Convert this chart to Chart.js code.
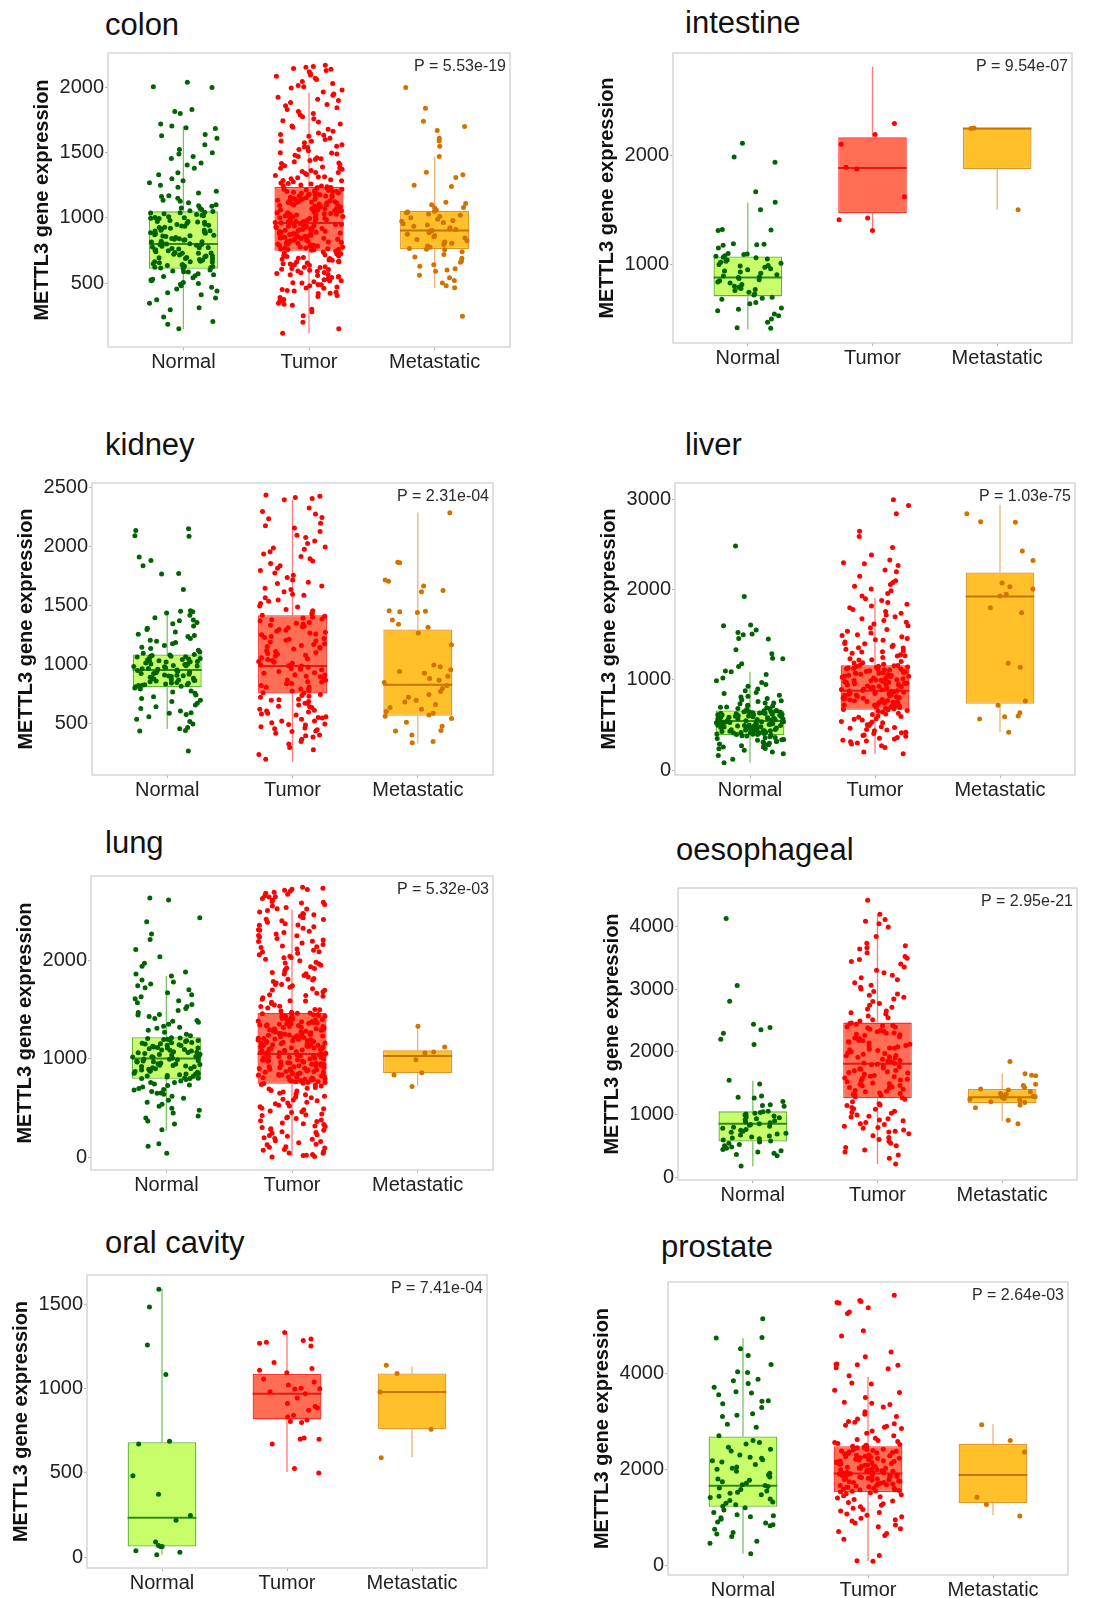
<!DOCTYPE html>
<html lang="en">
<head>
<meta charset="UTF-8">
<title>METTL3 gene expression</title>
<script src="https://cdn.jsdelivr.net/npm/chart.js@4.4.1/dist/chart.umd.min.js"></script>
<style>
  body { margin: 0; background: #fff; }
  #page { position: relative; width: 1097px; height: 1598px; font-family: "Liberation Sans", Arial, sans-serif; }
  .ttl { position: absolute; font-size: 31px; line-height: 31px; color: #111; white-space: nowrap; }
  .panel { position: absolute; }
</style>
</head>
<body>
<div id="page"></div>
<script>
// ---- data ----
const categories = ['Normal', 'Tumor', 'Metastatic'];
const tissues = ['colon', 'intestine', 'kidney', 'liver', 'lung', 'oesophageal', 'oral cavity', 'prostate'];
const pValues = ['P = 5.53e-19', 'P = 9.54e-07', 'P = 2.31e-04', 'P = 1.03e-75', 'P = 5.32e-03', 'P = 2.95e-21', 'P = 7.41e-04', 'P = 2.64e-03'];

// y axis limits and ticks
const colonRange = [10, 2264], colonTicks = [500, 1000, 1500, 2000];
const intestineRange = [280, 2937], intestineTicks = [1000, 2000];
const kidneyRange = [67, 2542], kidneyTicks = [500, 1000, 1500, 2000, 2500];
const liverRange = [-55, 3185], liverTicks = [0, 1000, 2000, 3000];
const lungRange = [-127, 2854], lungTicks = [0, 1000, 2000];
const oesoRange = [-47, 4612], oesoTicks = [0, 1000, 2000, 3000, 4000];
const oralRange = [-64, 1675], oralTicks = [0, 500, 1000, 1500];
const prostateRange = [-205, 5908], prostateTicks = [0, 2000, 4000];

// box stats per group: [lower whisker, q1, median, q3, upper whisker]
const colonBoxes = [[147, 609, 800, 1050, 1702], [115, 747, 960, 1236, 1960], [462, 760, 903, 1055, 1470]];
const intestineBoxes = [[403, 707, 881, 1072, 1567], [1310, 1472, 1884, 2164, 2812], [1501, 1875, 2245, 2245, 2245]];
const kidneyBoxes = [[458, 811, 958, 1089, 1450], [180, 758, 990, 1422, 2403], [333, 569, 833, 1300, 2292]];
const liverBoxes = [[80, 389, 545, 662, 1091], [182, 669, 880, 1164, 1910], [418, 735, 1927, 2193, 2945]];
const lungBoxes = [[272, 797, 1003, 1219, 1841], [17, 748, 1050, 1468, 2515], [728, 854, 1030, 1086, 1336]];
const oesoBoxes = [[173, 566, 849, 1048, 1536], [210, 1258, 1809, 2464, 4183], [891, 1180, 1274, 1405, 1651]];
const oralBoxes = [[14, 64, 234, 682, 1592], [506, 818, 970, 1087, 1329], [594, 760, 980, 1091, 1134]];
const prostateBoxes = [[239, 1217, 1655, 2687, 4738], [89, 1525, 1915, 2482, 3932], [1040, 1299, 1880, 2530, 2940]];

// sample values (estimated from the jittered points)
const colonNormal = [2000,2005,2040,1815,1800,1830,1720,1705,1690,1685,1640,1630,1610,1560,1525,1500,1490,1470,1455,1420,1405,1380,1345,1330,1300,1285,1270,1250,1235,1205,1190,1170,1150,1135,1115,1100,1090,1075,1065,1055,1048,1040,1032,1025,1016,1008,1001,995,988,979,972,966,958,950,944,937,929,921,915,906,899,892,886,878,870,863,857,849,842,836,829,821,815,808,802,796,790,783,776,770,762,755,748,741,735,728,722,715,708,700,694,688,681,675,668,661,655,648,641,634,628,622,615,609,600,592,585,572,563,550,541,530,518,505,492,480,468,455,440,425,410,385,372,345,310,295,240,205,185,150,
  1043,1021,997,973,951,927,905,883,861,839,817,795,773,751,729,707,685,663,641,619,1037,1003,969,935,901,867,833,799,765,731,697,663,629,1163,1127,1093,1073,587,557,523,497];
const colonTumor = [2170,2160,2155,2145,2140,2130,2120,2105,2095,2085,2070,2060,2045,2030,2015,2005,1995,1980,1965,1950,1940,1925,1910,1900,1885,1870,1860,1845,1830,1815,1800,1790,1775,1760,1745,1735,1720,1705,1695,1680,1665,1650,1640,1625,1610,1600,1590,1575,1560,1550,1540,1525,1515,1500,1490,1480,1470,1460,1450,1440,1430,1420,1410,1400,1390,1380,1372,1364,1356,1348,1340,1332,1324,1316,1308,1300,1292,1284,1276,1268,1260,1252,1244,1238,1232,1226,1220,1214,1208,1202,1196,1190,1184,1178,1172,1166,1160,1154,1148,1142,1136,1130,1124,1118,1112,1106,1100,1094,1088,1082,1076,1070,1064,1058,1052,1046,1040,1034,1028,1022,1016,1010,1004,998,992,986,980,974,968,962,956,950,944,938,932,926,920,914,908,902,896,890,884,878,872,866,860,854,848,842,836,830,824,818,812,806,800,794,788,782,776,770,764,758,752,745,738,731,724,717,710,703,696,689,682,675,668,661,654,647,640,633,626,619,612,605,598,590,582,574,566,558,550,542,534,526,518,510,500,490,480,470,460,450,440,430,420,405,390,375,360,345,330,300,280,250,200,150,115,
  1233,1227,1219,1211,1205,1197,1189,1181,1175,1167,1159,1151,1145,1137,1129,1121,1115,1107,1099,1091,1085,1077,1069,1061,1055,1047,1039,1031,1025,1017,1009,1001,995,987,979,971,965,957,949,941,935,927,919,911,905,897,889,881,875,867,859,851,845,837,829,821,815,807,799,791,785,777,769,761,755,1229,1203,1177,1143,1117,1083,1057,1023,997,963,937,903,877,843,817,783,757,1633,1587,1543,1497,1453,1417,1383,1347,1313,1287,1263,1247,739,723,707,691,677,663,649,637,621,607,593,579,563,547,531,517,503,487,463,443,423,397,367,337];
const colonMetastatic = [2000,1840,1740,1700,1670,1610,1590,1550,1470,1350,1330,1310,1250,1240,1120,1110,1100,1080,1075,1060,1050,1045,1040,1030,1020,1010,1000,990,980,975,965,955,945,935,925,915,910,903,900,895,885,875,865,855,845,835,825,815,805,795,785,775,765,760,755,740,720,700,690,670,660,640,630,610,600,590,560,540,520,500,480,465,245];

const intestineNormal = [2110,1985,1935,1665,1570,1500,1320,1315,1310,1190,1185,1180,1175,1150,1100,1095,1090,1080,1075,1065,1060,1050,1040,1030,1020,1010,1000,990,985,975,960,950,940,930,920,905,895,885,880,870,860,850,840,830,815,800,790,780,770,760,745,730,720,700,690,680,650,640,600,590,575,545,530,500,470,420,415];
const intestineTumor = [2290,2190,2100,1890,1875,1620,1425,1410,1310];
const intestineMetastatic = [2250,2245,1500];

const kidneyNormal = [2155,2140,2095,2090,1915,1885,1840,1775,1770,1640,1460,1455,1450,1440,1420,1400,1380,1375,1360,1350,1330,1310,1300,1280,1260,1250,1240,1225,1210,1200,1190,1180,1165,1150,1140,1125,1110,1100,1088,1080,1075,1070,1062,1055,1050,1043,1036,1030,1024,1017,1010,1003,996,990,984,977,970,964,958,952,946,940,934,928,921,915,908,902,895,889,882,876,870,864,858,851,845,838,832,826,820,815,805,795,780,770,760,745,730,715,700,690,675,660,645,630,610,595,590,580,560,540,520,500,470,460,445,440,270,
  1085,1067,1047,1027,1007,987,967,947,927,907,887,867,847,827,1073,1033,993,953,913,873,833];
const kidneyTumor = [2440,2430,2420,2410,2400,2330,2300,2280,2250,2240,2200,2180,2160,2130,2100,2080,2050,2030,2000,1990,1980,1960,1940,1920,1900,1880,1860,1840,1820,1800,1780,1760,1740,1720,1700,1690,1670,1650,1640,1620,1600,1590,1570,1550,1540,1520,1500,1490,1470,1460,1440,1430,1420,1405,1390,1375,1360,1345,1330,1315,1300,1285,1270,1255,1240,1225,1210,1195,1180,1165,1150,1135,1120,1105,1090,1075,1060,1045,1030,1015,1000,990,980,970,960,945,930,915,900,885,870,855,840,825,810,795,780,765,750,740,725,710,700,690,675,660,650,640,625,610,600,590,575,560,550,540,525,510,500,490,475,460,450,440,420,400,390,370,350,330,300,280,240,200,
  1413,1383,1353,1323,1293,1263,1233,1203,1173,1143,1113,1083,1053,1023,993,963,933,903,873,843,813,783,763,1397,1337,1277,1217,1157,1097,1037,977,917,857,797,735,705,675,645,615,585,555,525,495,465,435,405];
const kidneyMetastatic = [2290,1870,1865,1720,1710,1670,1630,1620,1460,1455,1450,1445,1380,1345,1320,1270,1170,1000,985,960,945,930,905,885,870,850,825,800,775,750,725,700,685,665,640,625,605,590,575,565,545,515,480,445,440,405,350,340];

const liverNormal = [2485,1925,1610,1600,1555,1525,1510,1500,1460,1455,1335,1290,1240,1235,1180,1150,1100,1090,1060,1020,990,970,950,930,900,880,860,850,830,820,810,795,780,770,760,745,735,720,710,700,690,680,672,660,655,650,645,640,635,630,625,620,615,610,605,600,595,590,585,580,575,570,565,560,555,550,545,540,535,530,525,520,515,510,505,500,495,490,485,480,475,470,465,460,455,450,445,440,435,430,425,420,415,410,405,400,395,390,380,370,360,350,340,330,320,310,300,290,280,270,255,240,220,200,180,160,120,80,
  657,647,637,627,617,607,597,587,577,567,557,547,537,527,517,507,497,487,477,467,457,447,437,427,417,407,397,653,633,613,593,573,553,533,513,493,473,453,433,413,393,743,717,697,683,667,377,357,337,317,297,277,257,237];
const liverTumor = [3000,2935,2845,2650,2590,2470,2385,2330,2300,2290,2270,2220,2200,2150,2100,2080,2060,2040,2010,1990,1960,1930,1900,1880,1860,1840,1820,1800,1780,1760,1740,1720,1700,1680,1660,1640,1620,1600,1580,1560,1540,1520,1500,1480,1460,1440,1420,1400,1385,1370,1355,1340,1325,1310,1295,1280,1265,1250,1235,1220,1205,1190,1175,1160,1150,1140,1130,1120,1110,1100,1090,1080,1070,1060,1050,1040,1030,1020,1010,1000,990,980,970,960,950,940,930,920,910,900,890,880,870,860,850,840,830,820,810,800,790,780,770,760,750,740,730,720,710,700,690,680,670,660,645,630,615,600,585,570,555,540,525,510,495,480,465,450,435,420,405,390,375,360,345,330,315,300,290,270,250,200,180,
  1163,1153,1143,1133,1123,1113,1103,1093,1083,1073,1063,1053,1043,1033,1023,1013,1003,993,983,973,963,953,943,933,923,913,903,893,883,873,863,853,843,833,823,813,803,793,783,773,763,753,743,733,723,713,703,693,683,673,1157,1117,1077,1037,997,957,917,877,837,797,757,717,677,1493,1447,1403,1357,1313,1267,1223,1187,653,623,593,563,533,503,473,443,413,383,353,323];
const liverMetastatic = [2845,2755,2750,2430,2325,2075,2035,2010,1950,1930,1800,1745,1185,1140,765,720,635,600,590,565,420];

const lungNormal = [2630,2610,2430,2390,2265,2210,2110,2035,1970,1940,1880,1860,1840,1800,1780,1760,1740,1720,1700,1670,1650,1630,1610,1590,1570,1550,1530,1510,1490,1470,1450,1430,1410,1390,1370,1350,1330,1310,1290,1270,1250,1235,1215,1207,1199,1191,1183,1175,1167,1159,1151,1143,1135,1127,1119,1111,1103,1095,1087,1079,1071,1063,1055,1047,1039,1031,1023,1015,1007,999,991,983,975,967,959,951,943,935,927,919,911,903,895,887,879,871,863,855,847,839,831,823,815,807,800,790,775,760,745,730,715,700,685,670,655,640,620,600,580,560,540,520,500,480,450,420,400,370,340,280,140,113,43,
  1211,1187,1163,1139,1115,1091,1067,1043,1019,995,971,947,923,899,875,851,827,803,1197,1153,1109,1065,1021,977,933,889,845,801,1320,1380,1445,760,735,690,650];
const lungTumor = [2740,2730,2720,2710,2700,2690,2680,2670,2655,2640,2625,2610,2595,2580,2565,2550,2535,2520,2505,2490,2475,2460,2445,2430,2415,2400,2385,2370,2355,2340,2325,2310,2295,2280,2265,2250,2235,2220,2205,2190,2175,2160,2145,2130,2115,2100,2085,2070,2055,2040,2025,2010,1995,1980,1965,1950,1935,1920,1905,1890,1875,1860,1845,1830,1815,1800,1785,1770,1755,1740,1725,1710,1695,1680,1665,1650,1635,1620,1605,1590,1575,1560,1545,1530,1515,1500,1485,1472,1465,1457,1449,1441,1433,1425,1417,1409,1401,1393,1385,1377,1369,1361,1353,1345,1337,1329,1321,1313,1305,1297,1289,1281,1273,1265,1257,1249,1241,1233,1225,1217,1209,1201,1193,1185,1177,1169,1161,1153,1145,1137,1129,1121,1113,1105,1097,1089,1081,1073,1065,1057,1049,1041,1033,1025,1017,1009,1001,993,985,977,969,961,953,945,937,929,921,913,905,897,889,881,873,865,857,849,841,833,825,817,809,801,793,785,777,769,761,752,740,725,710,695,680,665,650,635,620,605,590,575,560,545,530,515,500,485,470,455,440,425,410,395,380,365,350,335,320,305,290,275,260,245,230,215,200,185,170,150,130,110,95,80,60,45,30,20,10,5,
  1463,1455,1447,1439,1431,1423,1415,1407,1399,1391,1383,1375,1367,1359,1351,1343,1335,1327,1319,1311,1303,1295,1287,1279,1271,1263,1255,1247,1239,1231,1223,1215,1207,1199,1191,1183,1175,1167,1159,1151,1143,1135,1127,1119,1111,1103,1095,1087,1079,1071,1063,1055,1047,1039,1031,1023,1015,1007,999,991,983,975,967,959,951,943,935,927,919,911,903,895,887,879,871,863,855,847,839,831,823,815,807,799,791,783,775,767,759,751,2717,2643,2587,2523,2467,2413,2357,2303,2247,2193,2137,2083,2027,1973,1917,1863,1807,1753,1697,1643,1587,1533,1497,733,703,673,643,613,583,553,523,493,463,433,403,373,343,313,283,253,223,193,163,133,103,73,43,23];
const lungMetastatic = [1330,1120,1070,1060,990,860,835,720];

const oesoNormal = [4125,3055,2805,2440,2385,2350,2295,2200,2115,1545,1485,1295,1275,1260,1205,1155,1140,1130,1050,1040,1030,1020,1005,990,975,960,945,930,915,900,880,865,850,840,825,810,795,780,760,745,730,715,700,685,670,655,640,625,610,590,575,560,540,520,500,480,460,440,420,400,380,360,340,175];
const oesoTumor = [4415,4195,4110,4080,4040,3990,3840,3730,3690,3660,3640,3580,3520,3490,3470,3440,3400,3350,3300,3260,3220,3180,3150,3100,3060,3030,3000,2960,2920,2900,2870,2840,2800,2770,2740,2710,2680,2650,2620,2600,2570,2540,2510,2490,2460,2440,2420,2400,2380,2360,2340,2320,2300,2280,2260,2240,2220,2200,2180,2160,2140,2120,2100,2080,2060,2040,2020,2000,1980,1960,1940,1920,1900,1880,1860,1840,1820,1800,1780,1760,1740,1720,1700,1680,1660,1640,1620,1600,1580,1560,1540,1520,1500,1480,1460,1440,1420,1400,1380,1360,1340,1320,1300,1280,1265,1240,1200,1170,1140,1110,1080,1050,1020,990,960,930,900,870,840,810,780,750,720,690,660,630,600,570,540,500,470,430,400,350,300,210,
  2450,2390,2330,2270,2210,2150,2090,2030,1970,1910,1850,1790,1730,1670,1610,1550,1490,1430,1370,1310,2415,2295,2175,2055,1935,1815,1695,1575,1455,1335,1150,1090,1030,970,910,850,790,730];
const oesoMetastatic = [1845,1650,1625,1615,1480,1460,1430,1405,1390,1360,1335,1320,1300,1290,1280,1270,1255,1240,1225,1200,1190,1150,1105,905,850];

const oralNormal = [1590,1485,1260,1085,688,672,483,374,247,220,91,64,62,70,29,39,14];
const oralTumor = [1334,1295,1286,1276,1270,1253,1155,1120,1110,1095,1058,1040,1022,1003,1000,998,982,970,945,912,895,886,872,843,832,814,805,799,707,702,700,672,526,500];
const oralMetastatic = [1140,1090,980,760,590];

const prostateNormal = [5140,4750,4740,4515,4375,4185,4035,4020,3880,3850,3790,3710,3620,3590,3555,3430,3420,3370,3290,3160,3130,3100,2940,2880,2700,2600,2560,2530,2460,2420,2380,2300,2250,2230,2200,2180,2150,2100,2050,2020,2000,1960,1920,1880,1840,1800,1770,1740,1710,1680,1660,1640,1610,1580,1550,1520,1500,1470,1440,1410,1380,1350,1320,1290,1260,1230,1200,1150,1100,1050,1030,1010,990,960,900,880,845,820,750,680,650,600,500,460,240];
const prostateTumor = [5630,5520,5500,5480,5470,5370,5280,5250,4890,4780,4445,4350,4195,4190,4180,4170,4120,4100,3950,3800,3780,3650,3600,3500,3400,3380,3350,3300,3200,3150,3100,3050,3000,2980,2950,2920,2900,2880,2850,2800,2750,2700,2650,2620,2600,2580,2560,2540,2520,2500,2480,2465,2450,2435,2420,2405,2390,2375,2360,2345,2330,2315,2300,2285,2270,2255,2240,2225,2210,2195,2180,2165,2150,2135,2120,2105,2090,2075,2060,2045,2030,2015,2000,1990,1980,1970,1960,1950,1940,1930,1920,1910,1900,1890,1880,1870,1860,1850,1840,1830,1815,1800,1785,1770,1755,1740,1725,1710,1695,1680,1665,1650,1635,1620,1605,1590,1575,1560,1545,1530,1510,1490,1470,1450,1430,1400,1370,1340,1310,1280,1250,1220,1190,1160,1130,1100,1070,1040,1010,980,950,920,880,840,800,760,700,660,620,540,200,90,80,
  2473,2443,2413,2383,2353,2323,2293,2263,2233,2203,2173,2143,2113,2083,2053,2023,1993,1963,1933,1903,1873,1843,1813,1783,1753,1723,1693,1663,1633,1603,1573,1543];
const prostateMetastatic = [2930,2600,2360,1415,1265,1025];

// ---- layout (page pixels) ----
// plot area [left, top, right, bottom] and title anchor [x, baseline]
const plotFrames = [[108,48,510,347],[673,48,1072,343],[92,478,493,775],[675,478,1075,775],
                    [91,871,493,1170],[678,883,1077,1180],[87,1270,487,1568],[668,1277,1068,1575]];
const titleAnchors = [[105,35],[685,33],[105,455],[685,455],[105,853],[676,860],[105,1253],[661,1257]];

const AX_W = 90, AX_H = 36, PAD_T = 8, PAD_R = 8;
const BOX_W = 0.55, JITTER_W = 0.54;
const FILL = ['#C8FE6A', '#FF6D55', '#FFC02A'];
const EDGE = ['#5DB337', '#FF2E2E', '#E0952A'];
const MEDIAN = ['#2F8A1E', '#E31A1A', '#C47400'];
const WHISK = ['#7CC267', '#FF7A7A', '#EDB27A'];
const DOT = ['#006400', '#FF0000', '#D27300'];
const FONT = '"Liberation Sans", Arial, sans-serif';

const panels = [
  { groups: [colonNormal, colonTumor, colonMetastatic], boxes: colonBoxes, range: colonRange, ticks: colonTicks },
  { groups: [intestineNormal, intestineTumor, intestineMetastatic], boxes: intestineBoxes, range: intestineRange, ticks: intestineTicks },
  { groups: [kidneyNormal, kidneyTumor, kidneyMetastatic], boxes: kidneyBoxes, range: kidneyRange, ticks: kidneyTicks },
  { groups: [liverNormal, liverTumor, liverMetastatic], boxes: liverBoxes, range: liverRange, ticks: liverTicks },
  { groups: [lungNormal, lungTumor, lungMetastatic], boxes: lungBoxes, range: lungRange, ticks: lungTicks },
  { groups: [oesoNormal, oesoTumor, oesoMetastatic], boxes: oesoBoxes, range: oesoRange, ticks: oesoTicks },
  { groups: [oralNormal, oralTumor, oralMetastatic], boxes: oralBoxes, range: oralRange, ticks: oralTicks },
  { groups: [prostateNormal, prostateTumor, prostateMetastatic], boxes: prostateBoxes, range: prostateRange, ticks: prostateTicks }
];

// same idea as geom_jitter, but repeatable
function jitter(i, seed) {
  const s = Math.sin((i + 1) * 12.9898 + seed * 78.233) * 43758.5453;
  return (s - Math.floor(s) - 0.5) * JITTER_W;
}

// grey frame round the plot area
const framePlugin = {
  id: 'frame',
  beforeDatasetsDraw(chart) {
    const a = chart.chartArea, ctx = chart.ctx;
    ctx.save();
    ctx.strokeStyle = '#d6d6d6';
    ctx.lineWidth = 1.5;
    ctx.strokeRect(a.left, a.top, a.right - a.left, a.bottom - a.top);
    ctx.restore();
  }
};

// p value in the top right corner
const pvalPlugin = {
  id: 'pval',
  afterDraw(chart, args, opts) {
    const a = chart.chartArea, ctx = chart.ctx;
    ctx.save();
    ctx.font = '16px ' + FONT;
    ctx.fillStyle = '#2b2b2b';
    ctx.textAlign = 'right';
    ctx.textBaseline = 'top';
    ctx.fillText(opts.text, a.right - 4, a.top + 6);
    ctx.restore();
  }
};

function buildDatasets(p, k) {
  const sets = [{
    type: 'bar', order: 3,
    data: p.boxes.map((b, g) => ({ x: g + 1, y: [b[1], b[3]] })),
    backgroundColor: FILL, borderColor: EDGE, borderWidth: 1.3, borderSkipped: false,
    barPercentage: BOX_W, categoryPercentage: 1
  }];
  p.boxes.forEach((b, g) => {
    const x = g + 1;
    sets.push({
      type: 'line', order: 4, pointRadius: 0, borderColor: WHISK[g], borderWidth: 1.3, spanGaps: false,
      data: [{ x, y: b[3] }, { x, y: b[4] }, { x, y: null }, { x, y: b[0] }, { x, y: b[1] }]
    });
    sets.push({
      type: 'line', order: 2, pointRadius: 0, borderColor: MEDIAN[g], borderWidth: 2,
      data: [{ x: x - BOX_W / 2, y: b[2] }, { x: x + BOX_W / 2, y: b[2] }]
    });
  });
  p.groups.forEach((vals, g) => {
    sets.push({
      type: 'scatter', order: 1, pointRadius: 2.5, pointBorderWidth: 0,
      pointBackgroundColor: DOT[g], pointBorderColor: DOT[g],
      data: vals.map((v, i) => ({ x: g + 1 + jitter(i, k * 3 + g), y: v }))
    });
  });
  return sets;
}

const page = document.getElementById('page');

panels.forEach((p, k) => {
  const [L, T, R, B] = plotFrames[k];

  const ttl = document.createElement('div');
  ttl.className = 'ttl';
  ttl.textContent = tissues[k];
  ttl.style.left = titleAnchors[k][0] + 'px';
  ttl.style.top = (titleAnchors[k][1] - 26) + 'px';
  page.appendChild(ttl);

  const cv = document.createElement('canvas');
  cv.className = 'panel';
  cv.width = R - L + AX_W + PAD_R;
  cv.height = B - T + PAD_T + AX_H;
  cv.style.left = (L - AX_W) + 'px';
  cv.style.top = (T - PAD_T) + 'px';
  page.appendChild(cv);

  new Chart(cv, {
    type: 'scatter',
    data: { datasets: buildDatasets(p, k) },
    options: {
      responsive: false,
      animation: false,
      devicePixelRatio: 1,
      layout: { padding: { top: PAD_T, right: PAD_R, left: 0, bottom: 0 } },
      plugins: { legend: { display: false }, tooltip: { enabled: false }, pval: { text: pValues[k] } },
      scales: {
        x: {
          type: 'linear', min: 0.4, max: 3.6, offset: false,
          afterBuildTicks: s => { s.ticks = [1, 2, 3].map(v => ({ value: v })); },
          afterFit: s => { s.height = AX_H; },
          ticks: { callback: v => categories[v - 1], font: { family: FONT, size: 20 }, color: '#222', padding: 0, maxRotation: 0 },
          grid: { drawOnChartArea: false, offset: false, tickLength: 3, color: '#b5b5b5' },
          border: { display: false }
        },
        y: {
          min: p.range[0], max: p.range[1],
          afterBuildTicks: s => { s.ticks = p.ticks.map(v => ({ value: v })); },
          afterFit: s => { s.width = AX_W; },
          ticks: { callback: v => String(v), font: { family: FONT, size: 20 }, color: '#222', padding: 1 },
          grid: { drawOnChartArea: false, tickLength: 3, color: '#b5b5b5' },
          border: { display: false },
          title: { display: true, text: 'METTL3 gene expression', color: '#111', font: { family: FONT, size: 20, weight: 'bold' }, padding: { top: 12, bottom: 0 } }
        }
      }
    },
    plugins: [framePlugin, pvalPlugin]
  });
});
</script>
</body>
</html>
